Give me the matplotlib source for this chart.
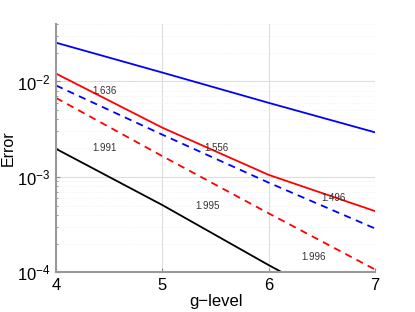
import numpy as np
import matplotlib.pyplot as plt

# g-level and error values
levels = [4, 5, 6, 7]
err_blue = [0.0255, 0.0124, 0.00597, 0.00293]
err_red = [0.0121, 0.00328, 0.00105, 0.000438]
err_blue_dash = [0.00908, 0.00277, 0.00087, 0.000288]
err_red_dash = [0.00673, 0.00165, 0.000415, 0.000107]
err_black = [0.00197, 0.000507, 0.000119, 0.0000299]

# convergence-rate annotations (x, y, text)
rate_x = [4.46, 4.46, 5.51, 5.42, 6.61, 6.42]
rate_y = [0.00804, 0.00202, 0.00202, 0.000495, 0.000602, 0.000144]
rate_txt = ["1.636", "1.991", "1.556", "1.995", "1.496", "1.996"]

plt.rcParams['font.family'] = ['Liberation Sans', 'DejaVu Sans']
fig = plt.figure(figsize=(4.15, 3.12), dpi=100)
ax = fig.add_axes([0.135, 0.127, 0.769, 0.796])

ax.semilogy(levels, err_blue, color="#0000ff", lw=1.3)
ax.semilogy(levels, err_red, color="#ff0000", lw=1.3)
ax.semilogy(levels, err_blue_dash, color="#0000ff", lw=1.3, ls=(0, (4, 3)))
ax.semilogy(levels, err_red_dash, color="#ff0000", lw=1.3, ls=(0, (4, 3)))
ax.semilogy(levels, err_black, color="black", lw=1.3)

for x, y, t in zip(rate_x, rate_y, rate_txt):
    ax.text(x, y, t, fontsize=7, color="#333333", ha="center", va="center")

ax.set_xlim(4, 7)
ax.set_ylim(1e-4, 0.04)
ax.set_xticks([4, 5, 6, 7])
ax.grid(True, which="major", color="#dddddd", lw=0.8)
ax.grid(True, which="minor", color="#eeeeee", lw=0.6, ls=":")
ax.set_axisbelow(True)

for s in ["top", "right"]:
    ax.spines[s].set_visible(False)
for s in ["left", "bottom"]:
    ax.spines[s].set_color("#999999")
    ax.spines[s].set_linewidth(1.5)

ax.tick_params(which="both", direction="in", color="#888888")
ax.tick_params(which="major", length=3, labelsize=12, pad=4)
ax.tick_params(which="minor", length=1.5)

ax.set_xlabel("g\u2212level", fontsize=12, labelpad=1)
ax.set_ylabel("Error", fontsize=11.5)
ax.yaxis.set_label_coords(-0.125, 0.5)

fig.savefig("out.png", dpi=100)
